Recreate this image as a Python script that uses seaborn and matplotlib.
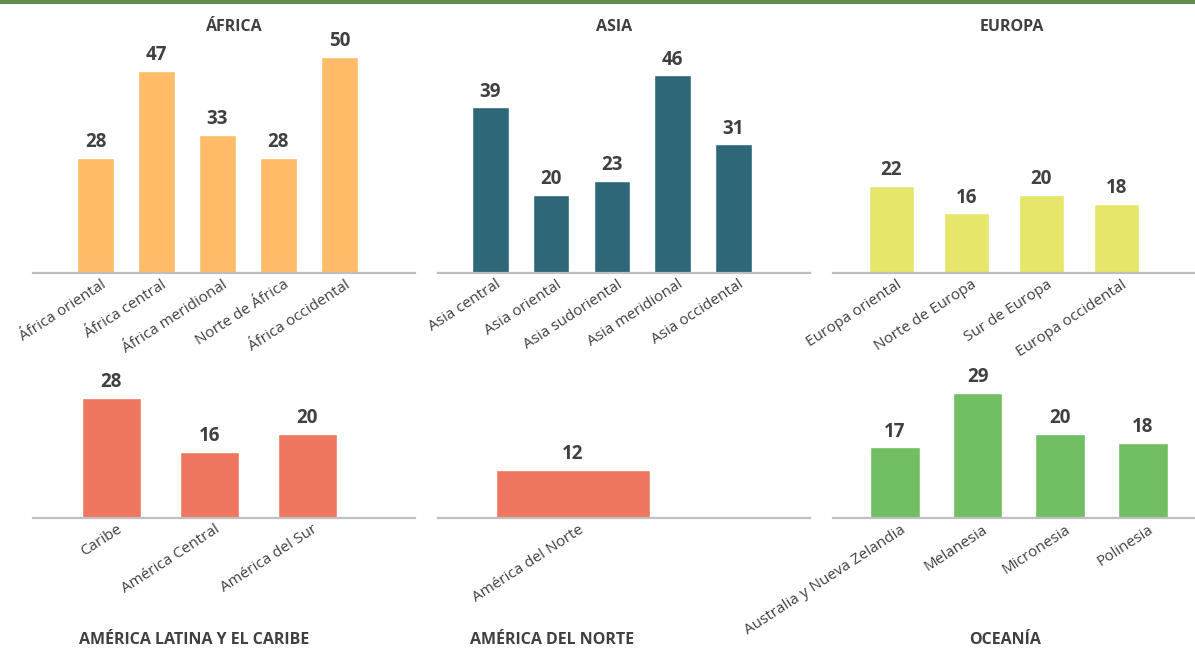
import matplotlib
matplotlib.use("Agg")
import matplotlib.pyplot as plt
import matplotlib.transforms as mtransforms
import pandas as pd
import seaborn as sns

# ---- data -------------------------------------------------------------
africa_labels = ["África oriental", "África central", "África meridional",
                 "Norte de África", "África occidental"]
africa_values = [28, 47, 33, 28, 50]

asia_labels = ["Asia central", "Asia oriental", "Asia sudoriental",
               "Asia meridional", "Asia occidental"]
asia_values = [39, 20, 23, 46, 31]

europe_labels = ["Europa oriental", "Norte de Europa", "Sur de Europa",
                 "Europa occidental"]
europe_values = [22, 16, 20, 18]

latam_labels = ["Caribe", "América Central", "América del Sur"]
latam_values = [28, 16, 20]

namerica_labels = ["América del Norte"]
namerica_values = [12]

oceania_labels = ["Australia y Nueva Zelandia", "Melanesia", "Micronesia",
                  "Polinesia"]
oceania_values = [17, 29, 20, 18]

titles = ["ÁFRICA", "ASIA", "EUROPA",
          "AMÉRICA LATINA Y EL CARIBE", "AMÉRICA DEL NORTE", "OCEANÍA"]

# ---- style ------------------------------------------------------------
sns.set_theme(style="white")
plt.rcParams["font.family"] = ["Open Sans", "DejaVu Sans"]
TEXT = "#404040"
AXIS = "#BFBFBF"

W, H = 1195, 648
fig = plt.figure(figsize=(W / 100, H / 100), dpi=100)
fig.patch.set_facecolor("white")

# thin green rule across the top
fig.add_artist(plt.Rectangle((0, 1 - 4 / H), 1, 4 / H, transform=fig.transFigure,
                             color="#648B4E", lw=0))


def panel(px_left, px_right, px_base, px_top, labels, values, color,
          xlim, ymin, px_per_unit):
    ax = fig.add_axes([px_left / W, 1 - px_base / H,
                       (px_right - px_left) / W, (px_base - px_top) / H])
    df = pd.DataFrame({"region": labels, "value": values})
    sns.barplot(data=df, x="region", y="value", color=color, saturation=1,
                width=0.6, ax=ax)
    ax.set_xlim(*xlim)
    ax.set_ylim(ymin, ymin + (px_base - px_top) / px_per_unit)
    for c in ax.containers:
        ax.bar_label(c, padding=4, fontsize=13.5, fontweight="bold", color=TEXT)
    ax.set_xlabel("")
    ax.set_ylabel("")
    ax.set_yticks([])
    for s in ("left", "right", "top"):
        ax.spines[s].set_visible(False)
    ax.spines["bottom"].set_color(AXIS)
    ax.spines["bottom"].set_linewidth(1.6)
    ax.tick_params(axis="x", length=0, pad=3)
    ax.set_xticks(range(len(labels)))
    ax.set_xticklabels(labels, rotation=33, ha="right", va="top",
                       rotation_mode="anchor", fontsize=11, color=TEXT)
    off = mtransforms.ScaledTranslation(5 / 100, 0, fig.dpi_scale_trans)
    for t in ax.get_xticklabels():
        t.set_transform(t.get_transform() + off)
    ax.set_facecolor("none")
    return ax


TOP_BASE, TOP_TOP = 273, 40
BOT_BASE, BOT_TOP = 518, 385

panel(33, 415, TOP_BASE, TOP_TOP, africa_labels, africa_values, "#FEBC69",
      (-1.025, 5.24), 3, 4.6)
panel(438, 810, TOP_BASE, TOP_TOP, asia_labels, asia_values, "#2E6878",
      (-0.864, 5.26), 3, 4.6)
panel(833, 1195, TOP_BASE, TOP_TOP, europe_labels, europe_values, "#E6E66A",
      (-0.78, 4.05), 3, 4.6)
panel(33, 415, BOT_BASE, BOT_TOP, latam_labels, latam_values, "#F0775F",
      (-0.80, 3.10), 1.4, 4.53)
panel(438, 810, BOT_BASE, BOT_TOP, namerica_labels, namerica_values, "#F0775F",
      (-0.525, 0.922), 1.4, 4.53)
panel(833, 1195, BOT_BASE, BOT_TOP, oceania_labels, oceania_values, "#72BF63",
      (-0.75, 3.63), 1.4, 4.53)

# panel headings
title_pos = [(234, 27), (614, 27), (1012, 27), (194, 640), (552, 640), (1005, 640)]
for txt, (x, y) in zip(titles, title_pos):
    fig.text(x / W, 1 - y / H, txt, ha="center", va="center", fontsize=11.5,
             fontweight="bold", color=TEXT)

fig.savefig("out.png", dpi=100, facecolor="white")
